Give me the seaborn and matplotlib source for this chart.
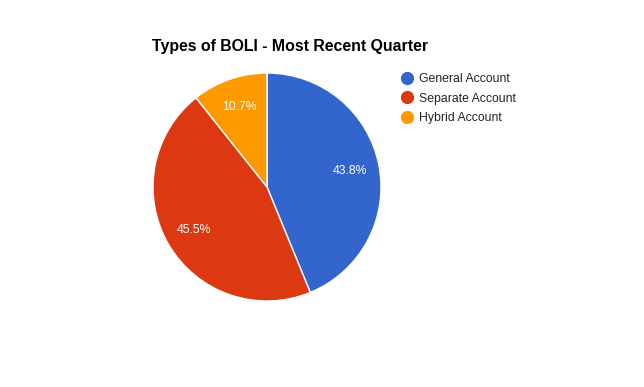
import matplotlib
matplotlib.use('Agg')
import matplotlib.pyplot as plt
import seaborn as sns
from matplotlib.lines import Line2D

# data
labels = ['General Account', 'Separate Account', 'Hybrid Account']
shares = [43.8, 45.5, 10.7]
colors = ['#3366CC', '#DC3912', '#FF9900']

sns.set_theme(style='white')
plt.rcParams['font.family'] = ['Liberation Sans', 'DejaVu Sans']

W, H = 644, 387
fig = plt.figure(figsize=(W / 100, H / 100), dpi=100)
fig.patch.set_facecolor('white')

# pie centre (267, 187), radius 114 px
cx, cy, r = 267, 187, 114
ax = fig.add_axes([(cx - r) / W, (H - cy - r) / H, 2 * r / W, 2 * r / H])
wedges, texts, autotexts = ax.pie(
    shares, colors=colors, startangle=90, counterclock=False,
    autopct='%.1f%%', pctdistance=0.74,
    wedgeprops={'edgecolor': 'white', 'linewidth': 1},
    textprops={'color': 'white', 'fontsize': 8.8},
)
ax.set_xlim(-1, 1)
ax.set_ylim(-1, 1)
ax.set_aspect('equal')
ax.axis('off')

fig.text(152 / W, 1 - 47 / H, 'Types of BOLI - Most Recent Quarter',
         fontsize=11.4, fontweight='bold', color='black', va='center', ha='left')

handles = [Line2D([0], [0], marker='o', linestyle='', markersize=8.5,
                  markerfacecolor=c, markeredgecolor=c) for c in colors]
fig.legend(handles, labels, loc='upper left', bbox_to_anchor=(401 / W, 1 - 73 / H),
           frameon=False, fontsize=8.8, handletextpad=0.45, labelspacing=0.62,
           handlelength=1.0, borderaxespad=0, borderpad=0, labelcolor='#222222')

fig.savefig('out.png', dpi=100, facecolor='white')
